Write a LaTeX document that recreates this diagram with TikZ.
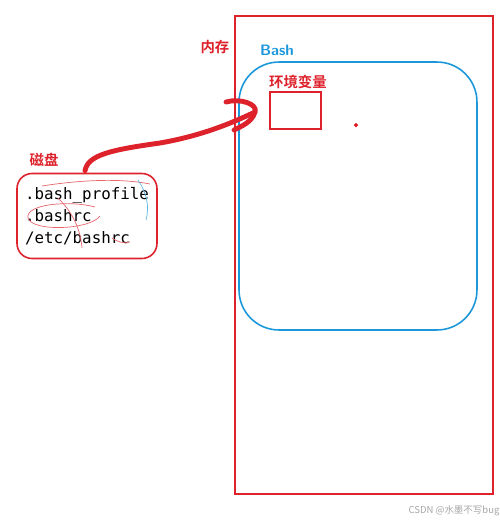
\documentclass[tikz,border=0pt]{standalone}
\usepackage{fontspec}
\setmonofont{DejaVu Sans Mono}
\newfontfamily\cjk{Noto Sans CJK SC}
\newfontfamily\cjkb{Noto Sans CJK SC Bold}
\usetikzlibrary{calc}
\definecolor{memred}{RGB}{222,34,44}
\definecolor{bashblue}{RGB}{28,152,218}

\tikzset{
    lbl/.style={font=\cjkb\fontsize{8.2}{9}\selectfont, text=memred, inner sep=0pt},
    pen/.style={memred, line width=2.8pt, line cap=round, line join=round},
    scribble/.style={memred!70, line width=0.4pt}
}

\begin{document}
\begin{tikzpicture}[x=0.02cm, y=-0.02cm]
        \useasboundingbox (0,0) rectangle (500,522);
        % memory and bash
        \node[draw=memred, line width=0.9pt, minimum width=5.16cm, minimum height=9.56cm, inner sep=0pt] (mem) at (364,255) {};
        \node[lbl] (memlbl) at (215,47) {内存};
        \node[draw=bashblue, line width=0.9pt, rounded corners=0.8cm, minimum width=4.76cm, minimum height=5.36cm, inner sep=0pt] (bash) at (358,196) {};
        \node[font=\sffamily\bfseries\fontsize{8.6}{9}\selectfont, text=bashblue, inner sep=0pt] (bashlbl) at (277,50) {Bash};
        \node[draw=memred, line width=0.9pt, minimum width=1.02cm, minimum height=0.74cm, inner sep=0pt] (env) at (295.5,110.5) {};
        \node[lbl] (envlbl) at (298,82) {环境变量};
        \filldraw[memred] (356,125) circle (1pt) coordinate (dot);
        % disk
        \node[lbl] (disklbl) at (44,160) {磁盘};
        \node[draw=memred, line width=0.9pt, rounded corners=0.3cm, minimum width=2.8cm, minimum height=1.7cm, align=left,
              font=\ttfamily\fontsize{9}{12.6}\selectfont] (disk) at (87,216) {.bash\_profile\\.bashrc\\/etc/bashrc};
        \draw[scribble] (42,186) .. controls (80,180) and (120,178) .. (150,184);
        \draw[scribble] (95,207) .. controls (70,200) and (25,204) .. (28,218) .. controls (32,232) and (90,230) .. (100,216);
        \draw[scribble] (58,198) .. controls (70,210) and (80,225) .. (82,248);
        \draw[scribble, bashblue!70] (138,180) .. controls (146,192) and (150,205) .. (146,220);
        \draw[scribble] (112,238) .. controls (118,242) and (124,244) .. (130,242);
        % the red stroke from disk into bash
        \coordinate (tip) at (255,112);
        \draw[pen] ($(disk.north)+(-2,-2)$) .. controls (88,155) and (110,150) .. (160,143)
              .. controls (200,136) and (230,124) .. (tip);
        \draw[pen] (226,102) .. controls (240,98) and (258,104) .. (tip)
              .. controls (252,122) and (242,126) .. (234,130);
        % watermark
        \node[font=\cjk\fontsize{5.4}{6}\selectfont, text=black!35, inner sep=0pt] (mark) at (454,511) {CSDN @水墨不写bug};
    \end{tikzpicture}
\end{document}
